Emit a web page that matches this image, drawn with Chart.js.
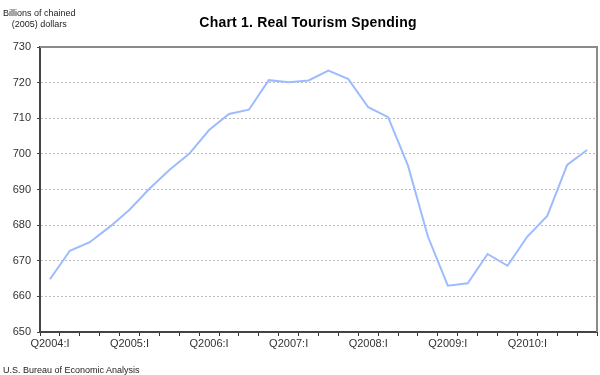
<!DOCTYPE html>
<html>
<head>
<meta charset="utf-8">
<script src="https://cdn.jsdelivr.net/npm/chart.js@4"></script>
<style>
  body { margin: 0; background: #fff; font-family: Arial, "Liberation Sans", sans-serif; }
  #wrap { position: relative; width: 600px; height: 375px; }
  canvas { position: absolute; left: 0; top: 0; }
  .unit { position: absolute; left: 3px; top: 8px; font-size: 9px; line-height: 11px; color: #222; text-align: center; }
  .title { position: absolute; left: 0; width: 616px; top: 14px; text-align: center; font-size: 14px; font-weight: bold; color: #000; letter-spacing: 0.2px; }
  .source { position: absolute; left: 3px; top: 365px; font-size: 9px; color: #222; }
</style>
</head>
<body>
<div id="wrap">
  <canvas id="chart" width="600" height="375"></canvas>
  <div class="unit">Billions of chained<br>(2005) dollars</div>
  <div class="title">Chart 1. Real Tourism Spending</div>
  <div class="source">U.S. Bureau of Economic Analysis</div>
</div>
<script>
const years = [2004, 2005, 2006, 2007, 2008, 2009, 2010];
const quarters = ["I", "II", "III", "IV"];
const labels = [];
years.forEach((y) => quarters.forEach((q) => labels.push("Q" + y + ":" + q)));

const spending = [
  664.8, 672.8, 675.2, 679.5, 684.3, 690.2, 695.5, 700.0,
  706.7, 711.2, 712.4, 720.7, 720.1, 720.6, 723.4, 721.0,
  713.1, 710.3, 696.7, 676.8, 663.0, 663.7, 671.9, 668.6,
  676.8, 682.6, 696.9, 701.1
];

const yTicks = { min: 650, max: 730, step: 10 };

// grey frame on top and right of the plot area
const frame = {
  id: "frame",
  afterDraw(chart) {
    const { ctx, chartArea: a } = chart;
    ctx.save();
    ctx.strokeStyle = "#8a8a8a";
    ctx.lineWidth = 2;
    ctx.beginPath();
    ctx.moveTo(a.left, a.top);
    ctx.lineTo(a.right, a.top);
    ctx.lineTo(a.right, a.bottom);
    ctx.stroke();
    ctx.restore();
  },
};

new Chart(document.getElementById("chart"), {
  type: "line",
  data: {
    labels: labels,
    datasets: [
      {
        data: spending,
        borderColor: "#9dbbff",
        borderWidth: 2,
        pointRadius: 0,
        tension: 0,
        fill: false,
      },
    ],
  },
  options: {
    responsive: false,
    animation: false,
    layout: { padding: { top: 47, right: 3, left: 0, bottom: 0 } },
    plugins: { legend: { display: false }, tooltip: { enabled: false } },
    scales: {
      x: {
        offset: true,
        grid: {
          offset: true,
          drawOnChartArea: false,
          drawTicks: true,
          tickLength: 4,
          color: "#333",
        },
        border: { color: "#444", width: 2 },
        ticks: {
          autoSkip: false,
          maxRotation: 0,
          padding: 1,
          color: "#333",
          font: { family: "Arial, 'Liberation Sans'", size: 11 },
          callback: (v, i) => (i % 4 === 0 ? labels[i] : ""),
        },
        afterFit: (scale) => { scale.height = 43; },
      },
      y: {
        min: yTicks.min,
        max: yTicks.max,
        ticks: {
          stepSize: yTicks.step,
          padding: 6,
          color: "#333",
          font: { family: "Arial, 'Liberation Sans'", size: 11 },
        },
        grid: {
          drawTicks: true,
          tickLength: 3,
          tickColor: "#444",
          tickBorderDash: [],
          color: "#bbbbbb",
          lineWidth: 1,
        },
        border: { color: "#444", width: 2, dash: [2, 2] },
        afterFit: (scale) => { scale.width = 40; },
      },
    },
  },
  plugins: [frame],
});
</script>
</body>
</html>
